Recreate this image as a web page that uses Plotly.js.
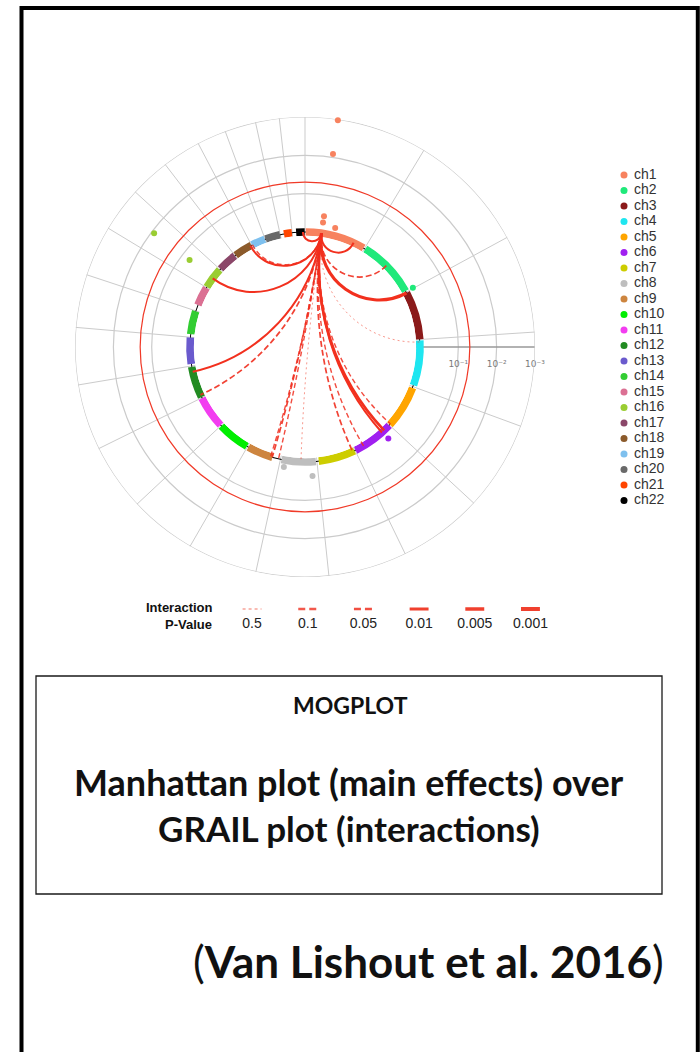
<!DOCTYPE html>
<html><head><meta charset="utf-8">
<script src="https://cdn.plot.ly/plotly-3.0.1.min.js"></script>
<style>html,body{margin:0;padding:0;background:#fff}#chart{width:700px;height:1052px}</style>
</head><body><div id="chart"></div>
<script>
// ---------------- DATA ----------------
const chromosomes = ['ch1','ch2','ch3','ch4','ch5','ch6','ch7','ch8','ch9','ch10','ch11','ch12','ch13','ch14','ch15','ch16','ch17','ch18','ch19','ch20','ch21','ch22'];
const chromLengthMb = [249.25,243.20,198.02,191.15,180.92,171.12,159.14,146.36,141.21,135.53,135.01,133.85,115.17,107.35,102.53,90.35,81.20,78.08,59.13,63.03,48.13,51.30];
const chromColors = ['#F7825F','#1FE97A','#8B1A1A','#1EE6F0','#FFA500','#A020F0','#CDCD00','#BEBEBE','#CD853F','#00EE00','#F23DF0','#228B22','#6A5ACD','#32CD32','#DB7093','#9ACD32','#8B4769','#8B5A2B','#7EC0EE','#696969','#FF4500','#000000'];
// SNP coverage of each chromosome on the ring (Mb)
const ringStartMb = [3,4,3,4,5,2,3,4,33,3,3,3,8,12,25,3,3,3,2,2,15,16];
const ringEndMb   = [245,238,197,185,178,169,152,142,137,133,133,130,114,106,101,88,80,77,58,62,47,50];
// main effects (Manhattan points above the ring)
const snpChrom   = [1,1,1,1,1,2,6,8,8,16,16];
const snpPosMb   = [66,66,66,66,114,241,39.5,127.7,21,47,47];
const snpNegLogP = [2.98,2.09,0.45,0.28,0.20,0.21,0.23,0.18,0.37,1.93,0.77];
// interactions (GRAIL arcs) from the ch1 hub SNP
const hubChrom = 1, hubPosMb = 66;
const partnerChrom = [22,1,2,3,4,5,6,6,6,7,8,9,9,9,12,12,16,18,19];
const partnerPosMb = [43,200,111,3.8,9.8,175,30,42,133,11,64,8,34,41,13,110,44,73,4];
const interactionP = ['0.01','0.01','0.05','0.001','0.5','0.1','0.005','0.01','0.1','0.05','0.5','0.1','0.05','0.1','0.05','0.01','0.01','0.01','0.1'];
const pValueLevels = ['0.5','0.1','0.05','0.01','0.005','0.001'];
const radialTickVals = [1,2,3];
const radialTickText = ['10\u207B\u00B9','10\u207B\u00B2','10\u207B\u00B3'];
const thresholdP = 0.05;

// ---------------- STYLES ----------------
const levelStyle = {
  '0.5':   {width:1.0, dash:'2px,3px', color:'rgba(240,70,50,0.55)'},
  '0.1':   {width:1.4, dash:'5px,3px', color:'rgba(240,45,30,0.85)'},
  '0.05':  {width:1.7, dash:'6px,3px', color:'rgba(240,45,30,0.9)'},
  '0.01':  {width:2.0, dash:'solid',   color:'#F2301E'},
  '0.005': {width:2.6, dash:'solid',   color:'#F2301E'},
  '0.001': {width:3.2, dash:'solid',   color:'#F2301E'}
};
const legendSample = {
  '0.5':   {width:1.6, dash:'3px,3px', color:'rgba(240,90,70,0.55)'},
  '0.1':   {width:2.6, dash:'7px,4px', color:'rgba(240,60,45,0.85)'},
  '0.05':  {width:2.6, dash:'7px,4px', color:'rgba(240,60,45,0.9)'},
  '0.01':  {width:3.2, dash:'solid', color:'#F0402E'},
  '0.005': {width:3.6, dash:'solid', color:'#F0402E'},
  '0.001': {width:4.0, dash:'solid', color:'#F0402E'}
};
const RMIN = -0.1, RMAX = 3.002;
const CX = 305, CY = 347, RO = 230;           // polar centre & outer radius (px)
const W = 700, H = 1052;
const GRID = '#cbcbcb';

// ---------------- DERIVED ----------------
const total = chromLengthMb.reduce((a,b)=>a+b,0);
const cumStart = []; chromLengthMb.reduce((acc,l,i)=>{cumStart[i]=acc; return acc+l;},0);
const degPerMb = 360/total;
const angleOf = (c,p) => (cumStart[c-1] + p) * degPerMb;
const boundaries = cumStart.map(s => s*degPerMb);

const hole = 0.4833; // radius fraction of r = RMIN
const slope = RO*(1-hole)/(RMAX-RMIN);
const ringR = RO*hole + slope*(0 - RMIN); // px radius of r = 0

const pxX = x => x/W, pxY = y => 1 - y/H;
const polarDomain = {x:[pxX(CX-RO), pxX(CX+RO)], y:[pxY(CY+RO), pxY(CY-RO)]};

const traces = [];
// outer 10^-3 circle
traces.push({type:'barpolar', subplot:'polar', theta:[90,270], width:[180,180], base:3-0.014, r:[0.028,0.028],
  marker:{color:GRID, line:{width:0}}, hoverinfo:'skip', showlegend:false});
// thin black base circle
traces.push({type:'barpolar', subplot:'polar', theta:[90,270], width:[180,180], base:-0.012, r:[0.024,0.024],
  marker:{color:'#000', line:{width:0}}, hoverinfo:'skip', showlegend:false});
// significance threshold circle
const thr = -Math.log10(thresholdP);
traces.push({type:'barpolar', subplot:'polar', theta:[90,270], width:[180,180], base:thr-0.016, r:[0.032,0.032],
  marker:{color:'#F03A28', line:{width:0}}, hoverinfo:'skip', showlegend:false});
// ring segments
traces.push({type:'barpolar', subplot:'polar',
  theta: chromosomes.map((c,i)=> angleOf(i+1,(ringStartMb[i]+ringEndMb[i])/2)),
  width: chromosomes.map((c,i)=> (ringEndMb[i]-ringStartMb[i])*degPerMb),
  base: -0.1, r: chromosomes.map(()=>0.2),
  marker:{color: chromColors, line:{width:0}}, hoverinfo:'skip', showlegend:false});
// manhattan points
traces.push({type:'scatterpolar', subplot:'polar', mode:'markers',
  theta: snpChrom.map((c,i)=>angleOf(c,snpPosMb[i])), r: snpNegLogP,
  marker:{size:6, color: snpChrom.map(c=>chromColors[c-1])}, hoverinfo:'skip', showlegend:false, cliponaxis:false});

// chromosome legend
traces.push({type:'scatter', xaxis:'x2', yaxis:'y2', mode:'markers', x: chromosomes.map(()=>0), y: chromosomes.map((c,i)=>i),
  marker:{size:7, color: chromColors}, cliponaxis:false, hoverinfo:'skip', showlegend:false});
traces.push({type:'scatter', xaxis:'x2', yaxis:'y2', mode:'text', x: chromosomes.map(()=>10), y: chromosomes.map((c,i)=>i),
  text: chromosomes, textposition:'middle right', textfont:{family:'Liberation Sans, Arial', size:14, color:'#333'},
  cliponaxis:false, hoverinfo:'skip', showlegend:false});

// p-value legend
pValueLevels.forEach((lv,i)=>{
  const st = legendSample[lv];
  traces.push({type:'scatter', xaxis:'x3', yaxis:'y3', mode:'lines', x:[i-0.17,i+0.17], y:[1,1],
    line:{color:st.color, width:st.width, dash:st.dash}, cliponaxis:false, hoverinfo:'skip', showlegend:false});
});
traces.push({type:'scatter', xaxis:'x3', yaxis:'y3', mode:'text', x: pValueLevels.map((l,i)=>i), y: pValueLevels.map(()=>0),
  text: pValueLevels, textposition:'middle center', textfont:{family:'Liberation Sans, Arial', size:14, color:'#222'},
  cliponaxis:false, hoverinfo:'skip', showlegend:false});
// invisible anchor for arc overlay axes
traces.push({type:'scatter', xaxis:'x', yaxis:'y', mode:'markers', x:[0], y:[0], marker:{size:1, color:'rgba(0,0,0,0)'}, hoverinfo:'skip', showlegend:false});

// ---------------- ARCS (Poincaré geodesics) ----------------
function arcPath(a1, a2){
  const R = ringR, t1 = a1*Math.PI/180, t2 = a2*Math.PI/180;
  const A = [R*Math.sin(t1), R*Math.cos(t1)], B = [R*Math.sin(t2), R*Math.cos(t2)];
  let d = Math.abs(t2-t1) % (2*Math.PI); if (d > Math.PI) d = 2*Math.PI - d;
  let k;
  if (Math.PI - d < 1e-3) k = 2*R/3;
  else { const rho = R*Math.tan(d/2), th = Math.PI - d; k = 4/3*Math.tan(th/4)*rho; }
  const f = 1 - k/R;
  const C1 = [A[0]*f, A[1]*f], C2 = [B[0]*f, B[1]*f];
  return `M${A[0]},${A[1]} C${C1[0]},${C1[1]} ${C2[0]},${C2[1]} ${B[0]},${B[1]}`;
}
const hubAngle = angleOf(hubChrom, hubPosMb);
const shapes = partnerChrom.map((c,i)=>{
  const st = levelStyle[interactionP[i]];
  return {type:'path', xref:'x', yref:'y', layer:'above', path: arcPath(hubAngle, angleOf(c, partnerPosMb[i])),
    line:{color:st.color, width:st.width, dash:st.dash}};
});
// outer frame & text box
shapes.push({type:'rect', xref:'paper', yref:'paper', x0:pxX(21.5), x1:pxX(697.8), y0:pxY(1070), y1:pxY(8), line:{color:'#000', width:4}});
shapes.push({type:'rect', xref:'paper', yref:'paper', x0:pxX(36), x1:pxX(662), y0:pxY(894), y1:pxY(676), line:{color:'#1a1a1a', width:1.3}});

const boxFont = 'Lato, "Open Sans", sans-serif';
const annotations = [
  {text:'<b>MOGPLOT</b>', x:pxX(350), y:pxY(705), font:{family:boxFont, size:23, color:'#111'}},
  {text:'<b>Manhattan plot (main effects) over</b>', x:pxX(349), y:pxY(782), font:{family:boxFont, size:36, color:'#111'}},
  {text:'<b>GRAIL plot (interactions)</b>', x:pxX(349), y:pxY(828), font:{family:boxFont, size:35, color:'#111'}},
  {text:'(<b>Van Lishout et al. 2016</b>)', x:pxX(428), y:pxY(961), font:{family:boxFont, size:44, color:'#111'}},
  {text:'<b>Interaction</b>', x:pxX(215), y:pxY(608), xanchor:'right', font:{family:'Liberation Sans, Arial', size:13, color:'#111'}},
  {text:'<b>P-Value</b>', x:pxX(214), y:pxY(624), xanchor:'right', font:{family:'Liberation Sans, Arial', size:13, color:'#111'}}
].map(a=>Object.assign({xref:'paper', yref:'paper', showarrow:false, xanchor:'center', yanchor:'middle'}, a));

// p-value legend axis: y = 1 (line samples) at 609 px, y = 0 (labels) at 624 px
const pvPxPerUnit = 15;
const layout = {
  width:W, height:H, margin:{l:0,r:0,t:0,b:0}, paper_bgcolor:'#fff', plot_bgcolor:'rgba(0,0,0,0)',
  showlegend:false, hovermode:false, font:{family:'Liberation Sans, Arial'},
  polar:{
    domain: polarDomain, hole: hole, bgcolor:'rgba(0,0,0,0)',
    angularaxis:{rotation:90, direction:'clockwise', tickmode:'array', tickvals: boundaries, showticklabels:false, ticks:'',
      showgrid:true, gridcolor:GRID, gridwidth:1, showline:false, layer:'below traces'},
    radialaxis:{range:[RMIN,RMAX], tickmode:'array', tickvals: radialTickVals, ticktext: radialTickText, angle:0, side:'clockwise',
      showgrid:true, gridcolor:GRID, gridwidth:1.2, showline:true, linecolor:'#999', linewidth:1.3,
      ticks:'outside', ticklen:9, tickcolor:'rgba(0,0,0,0)',
      tickfont:{family:'DejaVu Sans, Liberation Sans', size:9, color:'#7a7a7a'}, layer:'below traces'}
  },
  xaxis:{domain: polarDomain.x, range:[-RO,RO], visible:false, fixedrange:true},
  yaxis:{domain: polarDomain.y, range:[-RO,RO], visible:false, fixedrange:true},
  xaxis2:{domain:[pxX(620),1], range:[-4,76], visible:false},
  yaxis2:{domain:[pxY(175+15.5*21.5), pxY(175-15.5*0.5)], range:[21.5,-0.5], visible:false},
  xaxis3:{domain:[pxX(252-27.8), pxX(530.5+27.8)], range:[-0.5,5.5], visible:false},
  yaxis3:{domain:[pxY(624+pvPxPerUnit*0.6), pxY(609-pvPxPerUnit*0.6)], range:[-0.6,1.6], visible:false},
  shapes: shapes, annotations: annotations
};
Plotly.newPlot('chart', traces, layout, {displayModeBar:false, staticPlot:true});
</script></body></html>
